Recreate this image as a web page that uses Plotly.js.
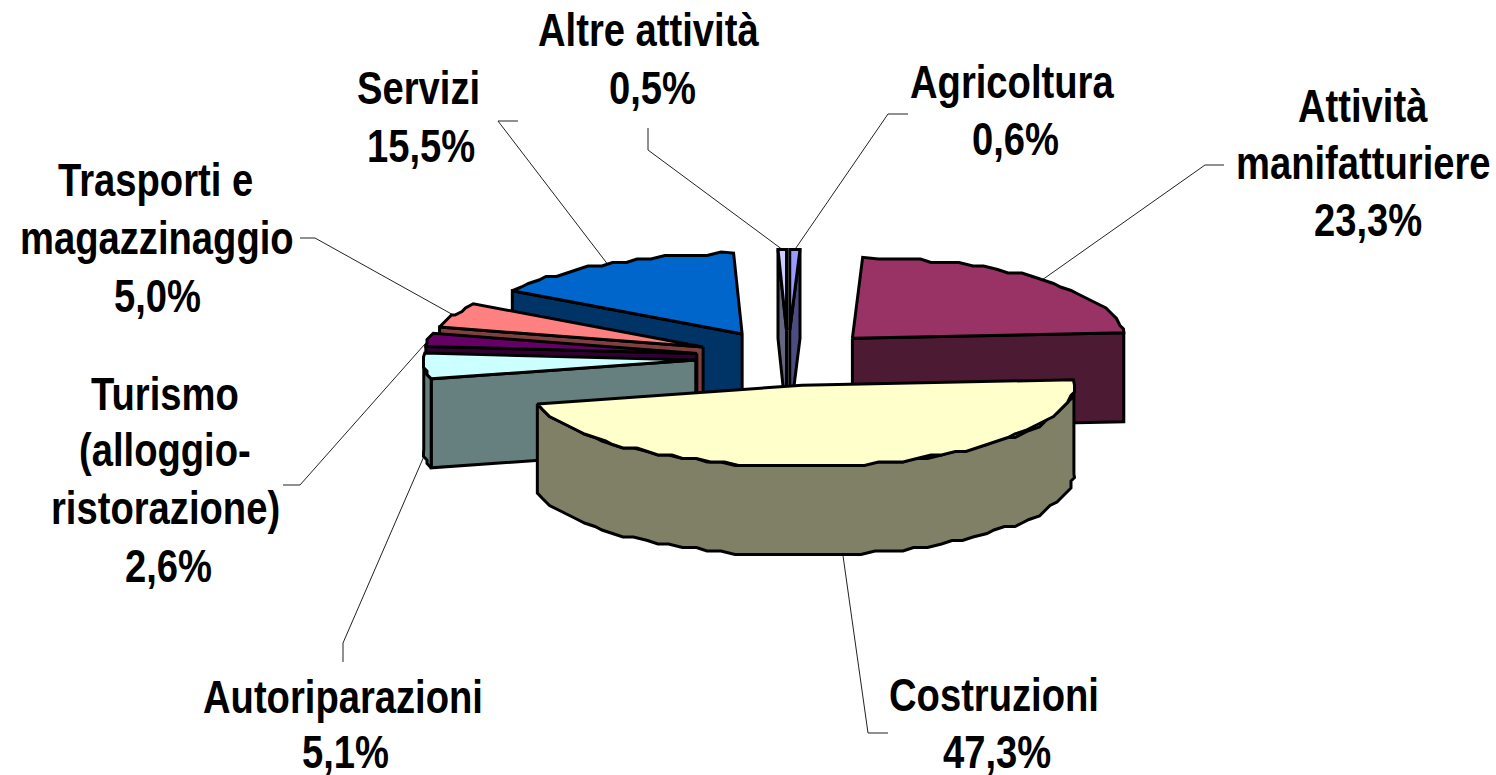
<!DOCTYPE html>
<html><head><meta charset="utf-8">
<script src="https://cdn.plot.ly/plotly-3.0.1.min.js"></script>
<style>html,body{margin:0;padding:0;background:#fff}#chart{width:1496px;height:775px}
.annotation-text{transform-box:fill-box;transform-origin:center;transform:scaleX(.83)}</style>
</head><body><div id="chart"></div>
<script>
// --- data ---
const categories = ["Agricoltura","Attività manifatturiere","Costruzioni","Autoriparazioni","Turismo (alloggio-ristorazione)","Trasporti e magazzinaggio","Servizi","Altre attività"];
const values = [0.6,23.3,47.3,5.1,2.6,5.0,15.5,0.5];
const topColors = ["#9999FF","#993366","#FFFFCC","#CCFFFF","#660066","#FF8080","#0066CC","#CCCCFF"];
const wallColors = ["#4C4C80","#4D1A33","#808066","#668080","#330033","#804040","#003366","#666680"];
const drawOrder = [6,5,4,3,7,0,1,2];
const labelLines = [["Agricoltura"],["Attività","manifatturiere"],["Costruzioni"],["Autoriparazioni"],["Turismo","(alloggio-","ristorazione)"],["Trasporti e","magazzinaggio"],["Servizi"],["Altre attività"]];

// --- layout of the drawing ---
const cx=788, cy=358, rx=272, ry=81, depth=89, explode=0.34, grid=3.5, stepDeg=3;
const labelX = [[1012,1015],[1363,1363,1368],[994,997],[343,345],[165,165,165,168],[155,157,157],[418,421],[648,652]];
const labelY = [[82,139],[106,163,220],[695,752],[697,752],[394,450,508,566],[180,238,296],[88,146],[30,88]];
const elbows = [[[908,114],[888,114]],[[1224,165],[1205,165]],[[888,733],[868,733]],[[343,662],[343,643]],[[283,485],[300,485]],[[300,238],[315,238]],[[518,121],[498,121]],[[648,128],[648,150]]];

const rad = d => d*Math.PI/180;
const total = values.reduce((a,b)=>a+b,0);
let acc = 0;
const slices = values.map(v=>{const s=acc/total*360; acc+=v; const e=acc/total*360; const m=(s+e)/2;
  return {s,e,m,ax:cx+explode*rx*Math.sin(rad(m)),ay:cy-explode*ry*Math.cos(rad(m))};});
const rim = (sl,a)=>[sl.ax+rx*Math.sin(rad(a)), sl.ay-ry*Math.cos(rad(a))];
const snap = p=>[Math.round(p[0]/grid)*grid, Math.round(p[1]/grid)*grid];
function arc(sl,a,b){const n=Math.max(1,Math.ceil((b-a)/stepDeg)),o=[];
  for(let i=0;i<=n;i++){const t=a+(b-a)*i/n,p=rim(sl,t);o.push(i===0||i===n?p:snap(p));}return o;}
function poly(pts,fill,name){return {type:"scatter",mode:"lines",x:pts.map(p=>p[0]).concat(pts[0][0]),y:pts.map(p=>p[1]).concat(pts[0][1]),
  fill:"toself",fillcolor:fill,line:{color:"#000",width:3,simplify:false},hoverinfo:"skip",showlegend:false,name};}

const traces=[];
slices.forEach((sl,i)=>{
  let p=rim(sl,sl.m); if(sl.m>90&&sl.m<270) p=[p[0],p[1]+depth];
  const pts=elbows[i].concat([p]);
  traces.push({type:"scatter",mode:"lines",x:pts.map(q=>q[0]),y:pts.map(q=>q[1]),line:{color:"#222",width:1},hoverinfo:"skip",showlegend:false});
});
drawOrder.forEach(i=>{
  const sl=slices[i], apex=[sl.ax,sl.ay], down=q=>[q[0],q[1]+depth];
  const face=a=>{const r=rim(sl,a);traces.push(poly([apex,r,down(r),down(apex)],wallColors[i],categories[i]));};
  if(Math.sin(rad(sl.s))<0) face(sl.s);
  if(Math.sin(rad(sl.e))>0) face(sl.e);
  const a=Math.max(sl.s,90), b=Math.min(sl.e,270);
  if(b>a){const top=arc(sl,a,b);traces.push(poly(top.concat(top.slice().reverse().map(down)),wallColors[i],categories[i]));}
  traces.push(poly([apex].concat(arc(sl,sl.s,sl.e)),topColors[i],categories[i]));
});

const annotations=[];
slices.forEach((sl,i)=>{
  const lines=labelLines[i].concat([values[i].toFixed(1).replace(".",",")+"%"]);
  lines.forEach((t,k)=>annotations.push({xref:"x",yref:"y",x:labelX[i][k],y:labelY[i][k],text:t,showarrow:false,xanchor:"center",yanchor:"middle",
    font:{family:"'Liberation Sans', Arial, sans-serif",size:46,color:"#000",weight:700}}));
});

Plotly.newPlot("chart",traces,{width:1496,height:775,margin:{l:0,r:0,t:0,b:0},paper_bgcolor:"#fff",plot_bgcolor:"#fff",showlegend:false,
  xaxis:{range:[0,1496],visible:false,fixedrange:true},yaxis:{range:[775,0],visible:false,fixedrange:true},annotations},{displayModeBar:false,staticPlot:true});
</script></body></html>
